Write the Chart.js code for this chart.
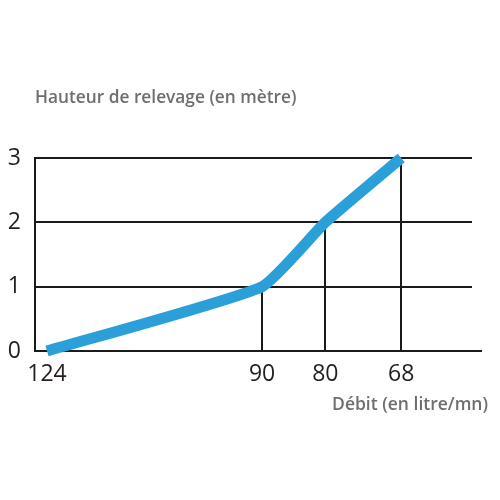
<!DOCTYPE html>
<html>
<head>
<meta charset="utf-8">
<script src="https://cdn.jsdelivr.net/npm/chart.js@4/dist/chart.umd.min.js"></script>
<style>
html,body{margin:0;padding:0;background:#fff;}
#c{display:block;}
</style>
</head>
<body>
<canvas id="c" width="500" height="500"></canvas>
<script>
// Data
const flowValues = [124, 90, 80, 68];      // Débit (litre/mn)
const heightValues = [0, 1, 2, 3];         // Hauteur de relevage (m)
const xTickLabels = ['124', '90', '80', '68'];
const yTickValues = [0, 1, 2, 3];
const yTitle = 'Hauteur de relevage (en mètre)';
const xTitle = 'Débit (en litre/mn)';

const points = flowValues.map((f, i) => ({ x: f, y: heightValues[i] }));

const dropLines = {
  id: 'dropLines',
  beforeDatasetsDraw(chart) {
    const { ctx, scales: { x, y }, chartArea } = chart;
    ctx.save();
    ctx.strokeStyle = '#1a1a1a';
    ctx.lineWidth = 2;
    points.forEach((p, i) => {
      if (i === 0) return;
      const px = Math.round(x.getPixelForValue(p.x));
      ctx.beginPath();
      ctx.moveTo(px, y.getPixelForValue(p.y));
      ctx.lineTo(px, y.getPixelForValue(0));
      ctx.stroke();
    });
    // baseline extends a little past the grid lines
    const y0 = y.getPixelForValue(0);
    ctx.beginPath();
    ctx.moveTo(chartArea.right - 1, y0);
    ctx.lineTo(chartArea.right + 10, y0);
    ctx.stroke();
    ctx.restore();
  },
  afterDraw(chart) {
    const { ctx } = chart;
    ctx.save();
    ctx.fillStyle = '#6d6e71';
    ctx.textBaseline = 'middle';
    ctx.font = '600 17.3px "Open Sans"';
    ctx.textAlign = 'left';
    ctx.fillText(yTitle, 35, 98);
    ctx.font = '600 17.5px "Open Sans"';
    ctx.textAlign = 'right';
    ctx.fillText(xTitle, 488, 405);
    ctx.restore();
  }
};

new Chart(document.getElementById('c'), {
  type: 'line',
  data: {
    datasets: [{
      data: points,
      borderColor: '#2a9fd8',
      borderWidth: 11,
      pointRadius: 0,
      tension: 0.15,
      fill: false,
      clip: false,
      borderCapStyle: 'butt',
      borderJoinStyle: 'round'
    }]
  },
  options: {
    responsive: false,
    animation: false,
    layout: { padding: { top: 158, right: 28, left: 0, bottom: 0 } },
    plugins: { legend: { display: false }, tooltip: { enabled: false }, title: { display: false } },
    scales: {
      x: {
        type: 'linear',
        reverse: true,
        min: 56.8,
        max: 125.9,
        afterBuildTicks(scale) { scale.ticks = flowValues.map(v => ({ value: v })); },
        afterFit(scale) { scale.height = 149; },
        grid: { display: false, drawTicks: false },
        border: { display: false },
        ticks: {
          autoSkip: false,
          maxRotation: 0,
          padding: 10,
          color: '#231f20',
          font: { family: 'Open Sans', size: 23 },
          callback(v) { const i = flowValues.indexOf(v); return i >= 0 ? xTickLabels[i] : ''; }
        }
      },
      y: {
        min: 0,
        max: 3,
        afterBuildTicks(scale) { scale.ticks = yTickValues.map(v => ({ value: v })); },
        afterFit(scale) { scale.width = 35; },
        grid: { color: '#1a1a1a', lineWidth: 2, drawTicks: false },
        border: { display: true, color: '#1a1a1a', width: 2 },
        ticks: {
          padding: 14,
          color: '#231f20',
          font: { family: 'Open Sans', size: 23 }
        }
      }
    }
  },
  plugins: [dropLines]
});
</script>
</body>
</html>
